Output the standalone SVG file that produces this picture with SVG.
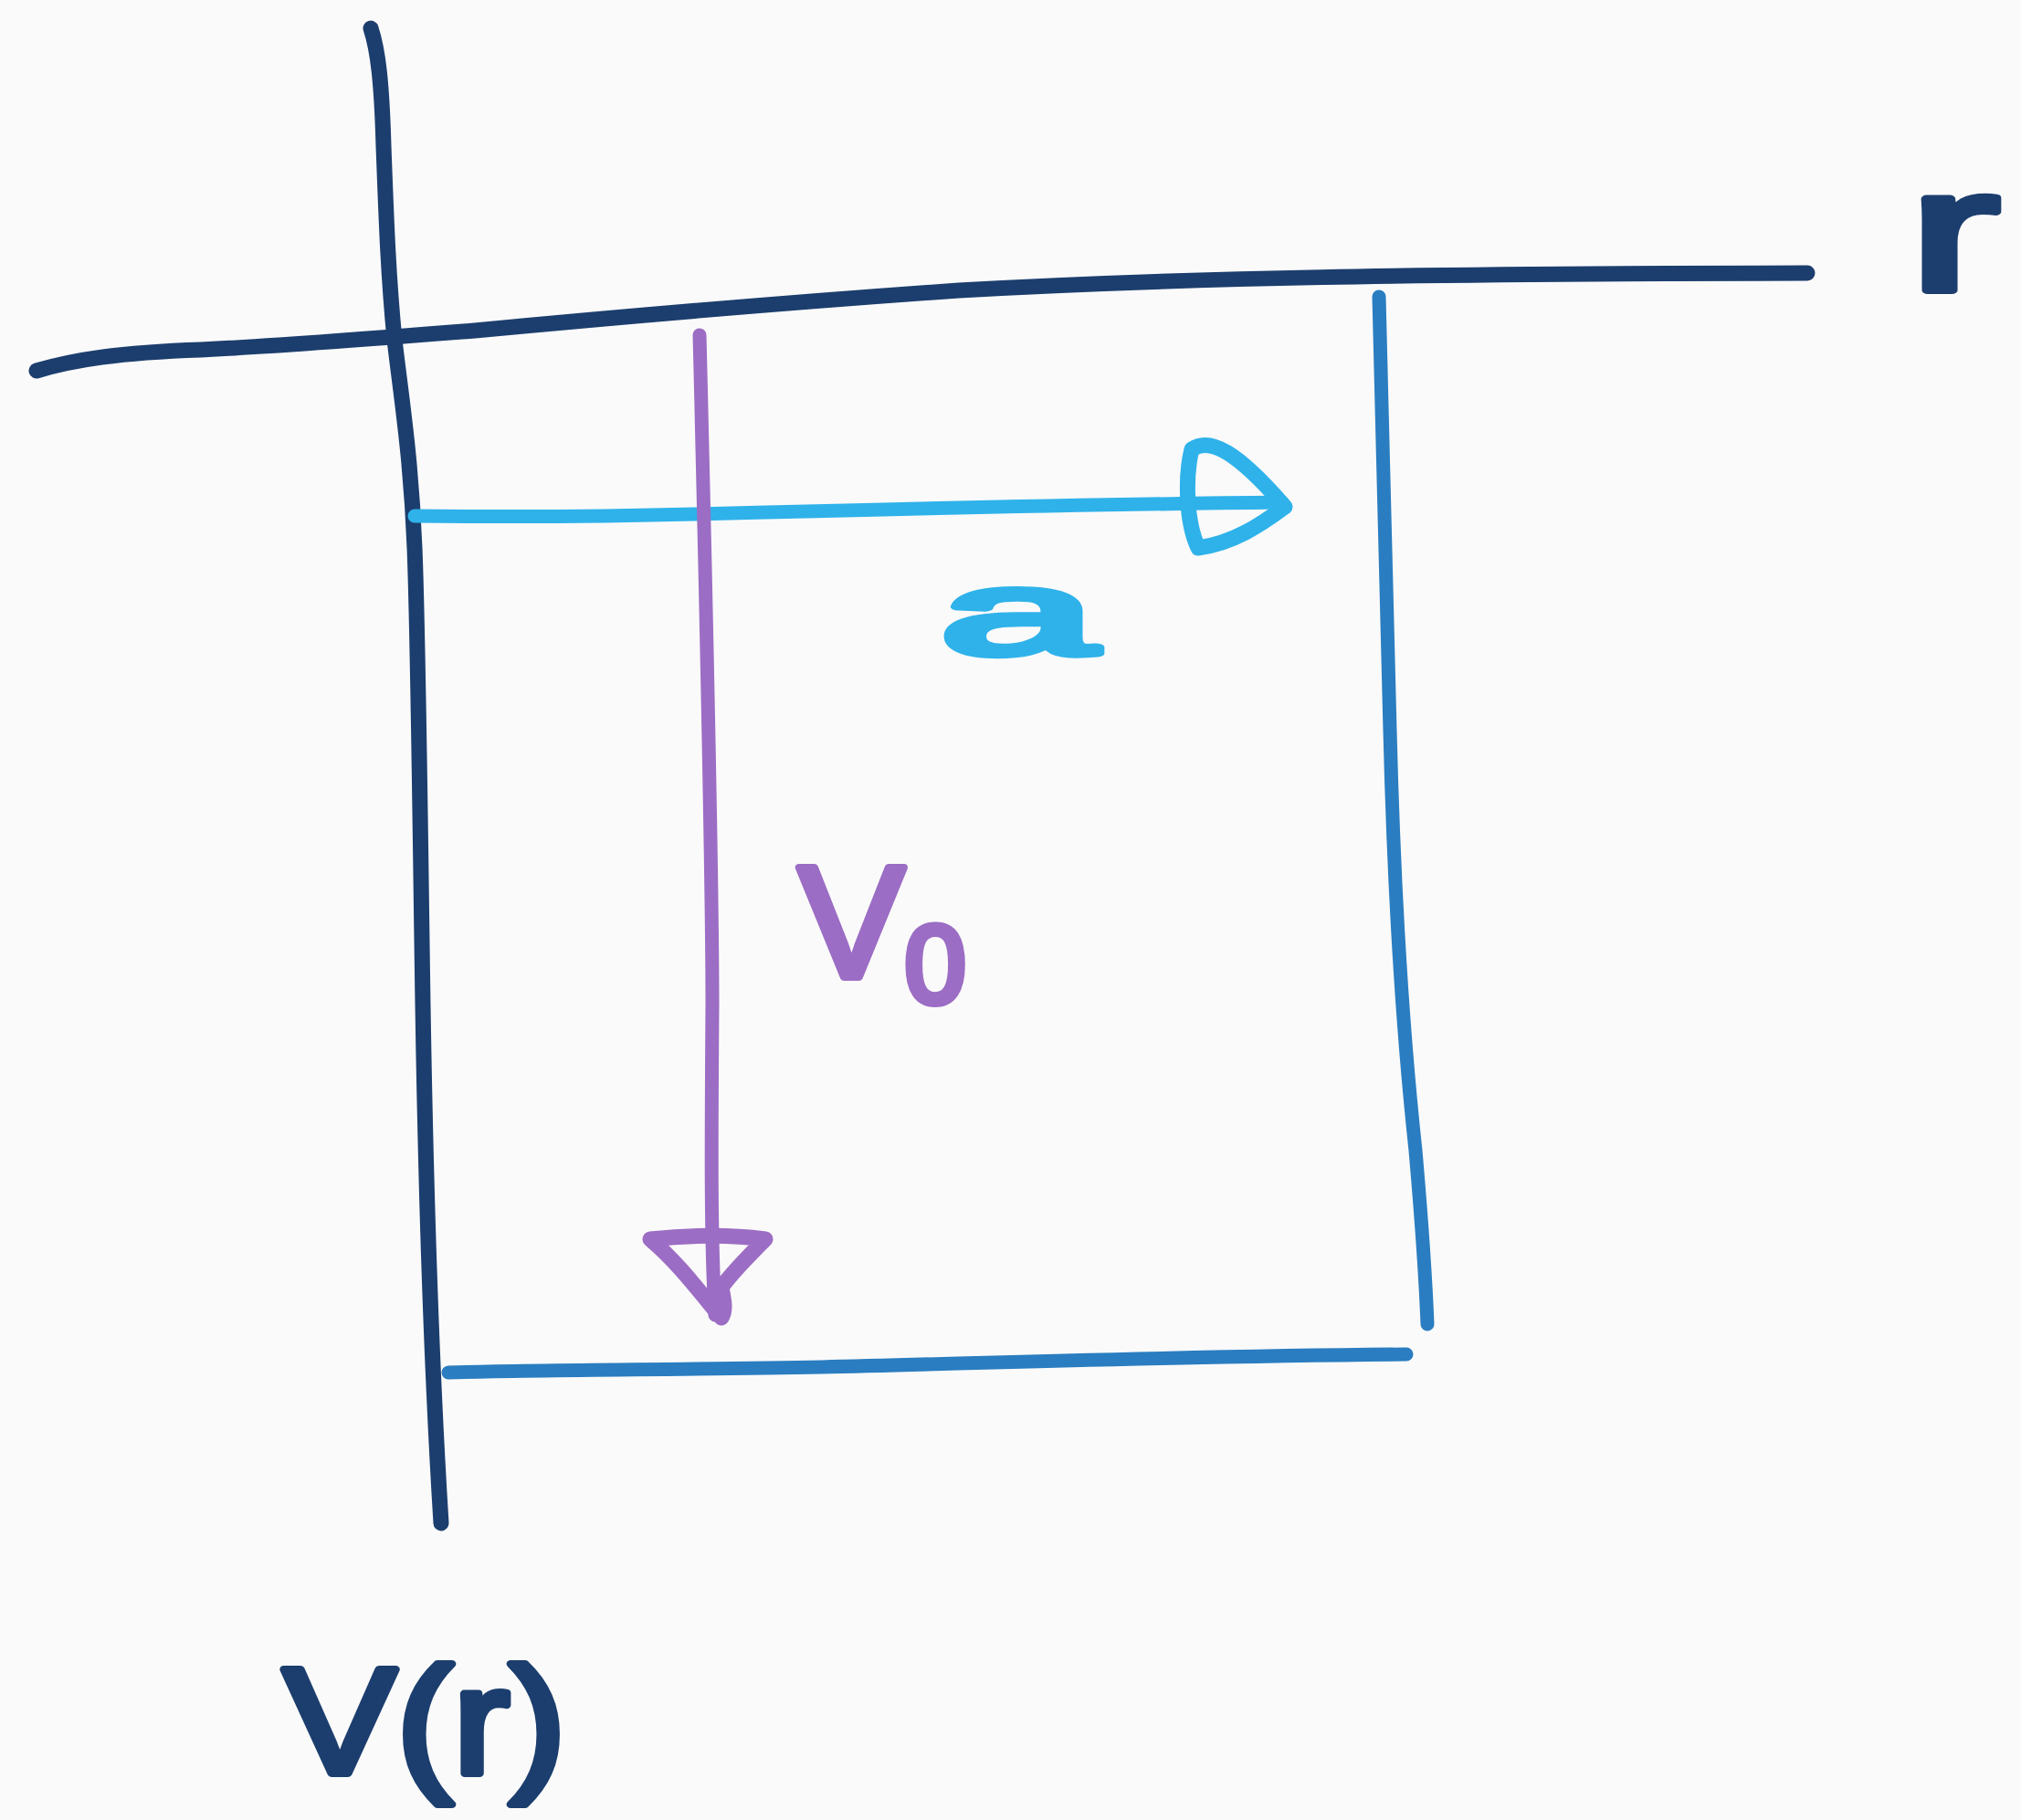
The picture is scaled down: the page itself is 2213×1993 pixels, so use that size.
<svg xmlns="http://www.w3.org/2000/svg" width="2213" height="1993" viewBox="0 0 2213 1993">
<style>
.ln{fill:none;stroke-linecap:round;stroke-linejoin:round}
.navy{stroke:#1c3e6e}
.blue{stroke:#2a7dc0}
.cyan{stroke:#2fb2ea}
.purple{stroke:#9c6dc4}
.lbl{font-family:"Liberation Sans","DejaVu Sans",sans-serif;stroke-width:8;stroke-linejoin:round}
</style>
<rect width="2213" height="1993" fill="#fafafa"/>
<g id="axes">
<path class="ln navy" stroke-width="17" d="M406,31 C414,55 418,90 420,160 C423,240 425,300 432,372 C440,440 450,500 454,600 C458,700 460,900 463,1100 C467,1350 475,1540 483,1668"/>
<path class="ln navy" stroke-width="17" d="M40,406 C80,394 130,386 220,383 C320,378 420,370 520,362 C700,345 850,332 1050,318 C1300,304 1550,300 1979,299"/>
</g>
<g id="box">
<path class="ln blue" stroke-width="15" d="M1510,325 C1514,480 1518,650 1522,800 C1527,1000 1537,1140 1550,1260 C1557,1340 1561,1400 1563,1450"/>
<path class="ln blue" stroke-width="15" d="M491,1503 C600,1500 750,1500 900,1497 C1100,1492 1300,1485 1540,1483"/>
</g>
<g id="connectors">
<g id="arrow-a">
<path class="ln cyan" stroke-width="15" d="M454,565 C550,566 650,566 760,563 C950,558 1150,553 1404,550"/>
<path class="ln cyan" stroke-width="17" d="M1305,492 C1325,478 1355,495 1407,555 C1380,575 1350,595 1312,600 C1298,570 1298,520 1305,492 Z"/>
</g>
<g id="arrow-v0">
<path class="ln purple" stroke-width="15" d="M766,367 C768,450 770,520 772,620 C776,800 780,980 780,1100 C779,1250 778,1350 783,1440"/>
<path class="ln purple" stroke-width="17" d="M712,1357 C760,1352 800,1352 838,1357 C820,1375 800,1395 790,1410 C793,1425 795,1435 790,1443 C770,1420 745,1385 712,1357 Z"/>
</g>
</g>
<g id="labels">
<text id="label-r" class="lbl" x="2090" y="318" font-size="190" fill="#1c3e6e" stroke="#1c3e6e" textLength="100" lengthAdjust="spacingAndGlyphs">r</text>
<text id="label-Vr" class="lbl" x="310" y="1942" font-size="165" fill="#1c3e6e" stroke="#1c3e6e" textLength="310" lengthAdjust="spacingAndGlyphs">V(r)</text>
<text id="label-a" class="lbl" x="1030" y="716" font-size="130" fill="#2fb2ea" stroke="#2fb2ea" textLength="170" lengthAdjust="spacingAndGlyphs">a</text>
<text id="label-V0" class="lbl" x="874" y="1070" font-size="175" fill="#9c6dc4" stroke="#9c6dc4">V<tspan font-size="120" dy="28">0</tspan></text>
</g>
</svg>
